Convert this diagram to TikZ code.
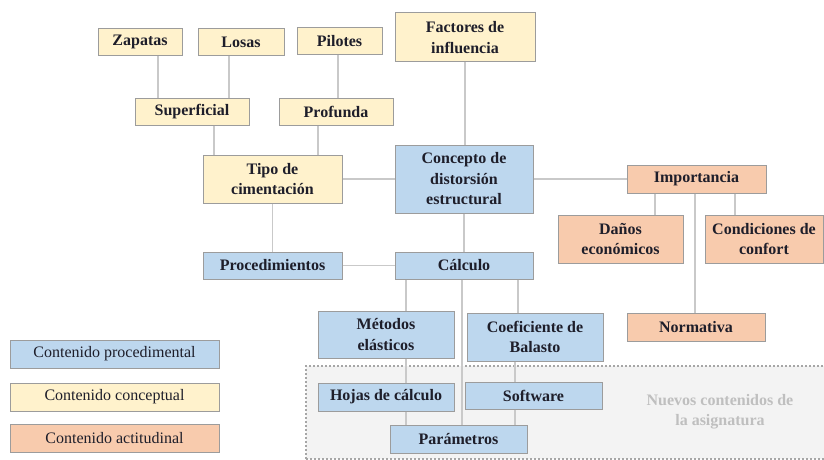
\documentclass[tikz,border=0pt]{standalone}
\usepackage{fontspec}
\setmainfont{Liberation Serif}
\definecolor{procfill}{HTML}{BDD7EE}
\definecolor{concfill}{HTML}{FFF2CC}
\definecolor{actifill}{HTML}{F8CBAD}
\definecolor{boxline}{HTML}{9C9C9C}
\definecolor{linkgray}{HTML}{C9C9C9}
\definecolor{txt}{HTML}{1E1E2A}
\definecolor{newfill}{HTML}{F3F3F3}
\begin{document}
\begin{tikzpicture}[x=1pt,y=-1pt,
  box/.style={draw=boxline,line width=1pt,inner sep=0pt,align=center,text=txt,
    font=\fontsize{16}{20.5}\selectfont\bfseries},
  proc/.style={box,fill=procfill},
  conc/.style={box,fill=concfill},
  acti/.style={box,fill=actifill},
  legend/.style={draw=boxline,line width=1pt,inner sep=0pt,text=txt,
    minimum width=209pt,minimum height=28pt,font=\fontsize{16}{20}\selectfont},
  link/.style={draw=linkgray,line width=1.3pt}]
\useasboundingbox (0,0) rectangle (824,460);
% zona de contenidos nuevos
\fill[newfill] (306,366) rectangle (826,459);
\draw[gray!70,line width=1.6pt,dash pattern=on 1.6pt off 2.4pt] (306,459) -- (306,366) -- (826,366);
\draw[gray!70,line width=1.6pt,dash pattern=on 1.6pt off 2.4pt] (306,459) -- (826,459);
\node[text=gray!50,font=\fontsize{16}{20}\selectfont\bfseries,align=center] (nuevos) at (720,412) {Nuevos contenidos de\\la asignatura};

% conceptuales
\node[conc,minimum width=84pt,minimum height=27pt] (zapatas) at (140,42) {Zapatas};
\node[conc,minimum width=86pt,minimum height=27pt] (losas) at (241,42) {Losas};
\node[conc,minimum width=85pt,minimum height=27pt] (pilotes) at (339.5,41) {Pilotes};
\node[conc,minimum width=140pt,minimum height=49pt] (factores) at (465,37.5) {Factores de\\influencia};
\node[conc,minimum width=114pt,minimum height=27pt] (superficial) at (192,111.5) {Superficial};
\node[conc,minimum width=114pt,minimum height=27pt] (profunda) at (336,111.5) {Profunda};
\node[conc,minimum width=139pt,minimum height=48pt] (tipo) at (272.5,179) {Tipo de\\cimentación};

% procedimentales
\node[proc,minimum width=138pt,minimum height=68pt] (concepto) at (464,179) {Concepto de\\distorsión\\estructural};
\node[proc,minimum width=139pt,minimum height=27pt] (procedimientos) at (272.5,265.5) {Procedimientos};
\node[proc,minimum width=138pt,minimum height=27pt] (calculo) at (464,265.5) {Cálculo};
\node[proc,minimum width=136pt,minimum height=47pt] (metodos) at (386,334.5) {Métodos\\elásticos};
\node[proc,minimum width=136pt,minimum height=48pt] (coeficiente) at (535,337) {Coeficiente de\\Balasto};
\node[proc,minimum width=136pt,minimum height=28pt] (hojas) at (386,397) {Hojas de cálculo};
\node[proc,minimum width=137pt,minimum height=27pt] (software) at (533.5,395.5) {Software};
\node[proc,minimum width=137pt,minimum height=28pt] (parametros) at (458.5,439) {Parámetros};

% actitudinales
\node[acti,minimum width=139pt,minimum height=28pt] (importancia) at (696.5,179) {Importancia};
\node[acti,minimum width=125pt,minimum height=48pt] (danos) at (620.5,239) {Daños\\económicos};
\node[acti,minimum width=118pt,minimum height=48pt] (confort) at (764,239) {Condiciones de\\confort};
\node[acti,minimum width=138pt,minimum height=28pt] (normativa) at (696,327) {Normativa};

% leyenda
\node[legend,fill=procfill] (legproc) at (114.5,354) {Contenido procedimental};
\node[legend,fill=concfill] (legconc) at (114.5,397) {Contenido conceptual};
\node[legend,fill=actifill] (legacti) at (114.5,438) {Contenido actitudinal};

% conexiones
\draw[link] (zapatas.south -| 158,0) -- (superficial.north -| 158,0);
\draw[link] (losas.south -| 229,0) -- (superficial.north -| 229,0);
\draw[link] (pilotes.south -| 338,0) -- (profunda.north -| 338,0);
\draw[link] (superficial.south -| 214,0) -- (tipo.north -| 214,0);
\draw[link] (profunda.south -| 318,0) -- (tipo.north -| 318,0);
\draw[link] (factores.south) -- (concepto.north -| factores.south);
\draw[link] (tipo.east) -- (concepto.west);
\draw[link] (concepto.east) -- (importancia.west);
\draw[link] (tipo.south) -- (procedimientos.north);
\draw[link] (procedimientos.east) -- (calculo.west);
\draw[link] (concepto.south) -- (calculo.north);
\draw[link] (importancia.south -| 655,0) -- (danos.north -| 655,0);
\draw[link] (importancia.south -| 695,0) -- (normativa.north -| 695,0);
\draw[link] (importancia.south -| 735,0) -- (confort.north -| 735,0);
\draw[link] (calculo.south -| 406,0) -- (metodos.north -| 406,0);
\draw[link] (metodos.south -| 406,0) -- (hojas.north -| 406,0);
\draw[link] (hojas.south -| 406,0) -- (parametros.north -| 406,0);
\draw[link] (calculo.south -| 462,0) -- (parametros.north -| 462,0);
\draw[link] (calculo.south -| 518,0) -- (coeficiente.north -| 518,0);
\draw[link] (coeficiente.south -| 515,0) -- (software.north -| 515,0);
\draw[link] (software.south -| 515,0) -- (parametros.north -| 515,0);
\end{tikzpicture}
\end{document}
